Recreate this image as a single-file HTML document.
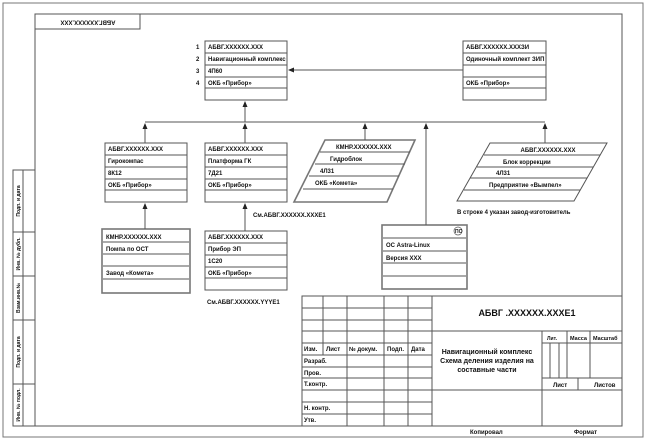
<!DOCTYPE html>
<html><head><meta charset="utf-8"><style>
html,body{margin:0;padding:0;background:#fff}
svg{display:block}
text{font-family:"Liberation Sans",sans-serif;font-size:6px;fill:#111;font-weight:600}
</style></head><body>
<svg width="647" height="441" viewBox="0 0 647 441" xmlns="http://www.w3.org/2000/svg">
<defs><marker id="a" viewBox="0 0 6 6" refX="5" refY="3" markerWidth="6" markerHeight="6" orient="auto"><path d="M0,0.5 L6,3 L0,5.5z" fill="#222"/></marker></defs>
<g fill="none" stroke="#555" stroke-width="1">
<rect x="3" y="3" width="640" height="434" stroke="#777"/>
<rect x="35" y="14" width="587" height="412"/>
<rect x="35" y="14" width="105" height="15"/>
<rect x="13" y="170" width="22" height="256"/>
<line x1="23" y1="170" x2="23" y2="426"/>
<line x1="13" y1="232" x2="35" y2="232"/><line x1="13" y1="276" x2="35" y2="276"/>
<line x1="13" y1="320" x2="35" y2="320"/><line x1="13" y1="384" x2="35" y2="384"/>
</g>
<text transform="translate(88,22) rotate(180)" text-anchor="middle" dominant-baseline="middle">АБВГ.XXXXXX.XXX</text>
<text transform="translate(20,201) rotate(-90)" text-anchor="middle" style="font-size:5px">Подп. и дата</text>
<text transform="translate(20,254) rotate(-90)" text-anchor="middle" style="font-size:5px">Инв. № дубл.</text>
<text transform="translate(20,298) rotate(-90)" text-anchor="middle" style="font-size:5px">Взам.инв.№</text>
<text transform="translate(20,352) rotate(-90)" text-anchor="middle" style="font-size:5px">Подп. и дата</text>
<text transform="translate(20,405) rotate(-90)" text-anchor="middle" style="font-size:5px">Инв. № подл.</text>
<g fill="none" stroke="#555" stroke-width="1">
<rect x="205" y="41" width="82" height="59"/><line x1="205" y1="53" x2="287" y2="53"/><line x1="205" y1="65" x2="287" y2="65"/><line x1="205" y1="77" x2="287" y2="77"/><line x1="205" y1="88" x2="287" y2="88"/>
<rect x="463" y="41" width="83" height="59"/><line x1="463" y1="53" x2="546" y2="53"/><line x1="463" y1="65" x2="546" y2="65"/><line x1="463" y1="77" x2="546" y2="77"/><line x1="463" y1="88" x2="546" y2="88"/>
<rect x="105" y="143" width="82" height="59"/><line x1="105" y1="155" x2="187" y2="155"/><line x1="105" y1="167" x2="187" y2="167"/><line x1="105" y1="179" x2="187" y2="179"/><line x1="105" y1="190" x2="187" y2="190"/>
<rect x="205" y="143" width="82" height="59"/><line x1="205" y1="155" x2="287" y2="155"/><line x1="205" y1="167" x2="287" y2="167"/><line x1="205" y1="179" x2="287" y2="179"/><line x1="205" y1="190" x2="287" y2="190"/>
<rect x="102" y="229" width="88" height="64" stroke-width="1.6" stroke="#777"/><line x1="103" y1="242" x2="189" y2="242"/><line x1="103" y1="254" x2="189" y2="254"/><line x1="103" y1="266" x2="189" y2="266"/><line x1="103" y1="279" x2="189" y2="279"/>
<rect x="205" y="231" width="82" height="59"/><line x1="205" y1="243" x2="287" y2="243"/><line x1="205" y1="255" x2="287" y2="255"/><line x1="205" y1="267" x2="287" y2="267"/><line x1="205" y1="278" x2="287" y2="278"/>
<rect x="382" y="225" width="85" height="64" stroke-width="1.6" stroke="#777"/><line x1="383" y1="238" x2="466" y2="238"/><line x1="383" y1="251" x2="466" y2="251"/><line x1="383" y1="263" x2="466" y2="263"/><line x1="383" y1="276" x2="466" y2="276"/>
<polygon points="325,140 415,140 387,202 294,202" stroke-width="1.6" stroke="#777"/>
<line x1="320" y1="152" x2="410" y2="152"/><line x1="315" y1="164" x2="405" y2="164"/><line x1="309" y1="176" x2="399" y2="176"/><line x1="303" y1="189" x2="393" y2="189"/>
<polygon points="490,143 607,143 574,201 457,201"/>
<line x1="484" y1="155" x2="600" y2="155"/><line x1="477" y1="167" x2="593" y2="167"/><line x1="470" y1="178" x2="587" y2="178"/><line x1="464" y1="190" x2="580" y2="190"/>
<circle cx="458" cy="231" r="4" stroke-width="0.7"/>
<line x1="463" y1="70" x2="289" y2="70" marker-end="url(#a)"/>
<line x1="245" y1="122" x2="245" y2="102" marker-end="url(#a)"/>
<line x1="145" y1="122" x2="545" y2="122"/>
<line x1="145" y1="143" x2="145" y2="124" marker-end="url(#a)"/>
<line x1="245" y1="143" x2="245" y2="124" marker-end="url(#a)"/>
<line x1="365" y1="140" x2="365" y2="124" marker-end="url(#a)"/>
<line x1="426" y1="225" x2="426" y2="124" marker-end="url(#a)"/>
<line x1="545" y1="143" x2="545" y2="124" marker-end="url(#a)"/>
<line x1="145" y1="229" x2="145" y2="204" marker-end="url(#a)"/>
<line x1="245" y1="231" x2="245" y2="204" marker-end="url(#a)"/>
<rect x="302" y="296" width="320" height="130"/>
<line x1="323" y1="296" x2="323" y2="355"/><line x1="347" y1="296" x2="347" y2="426"/><line x1="384" y1="296" x2="384" y2="426"/><line x1="408" y1="296" x2="408" y2="426"/><line x1="432" y1="296" x2="432" y2="426"/>
<line x1="302" y1="308" x2="432" y2="308"/><line x1="302" y1="320" x2="432" y2="320"/><line x1="302" y1="331" x2="622" y2="331"/><line x1="302" y1="343" x2="432" y2="343"/><line x1="302" y1="355" x2="432" y2="355"/><line x1="302" y1="367" x2="432" y2="367"/><line x1="302" y1="378" x2="432" y2="378"/><line x1="302" y1="390" x2="622" y2="390"/><line x1="302" y1="402" x2="432" y2="402"/><line x1="302" y1="414" x2="432" y2="414"/>
<line x1="542" y1="331" x2="542" y2="426"/><line x1="567" y1="331" x2="567" y2="378"/><line x1="590" y1="331" x2="590" y2="378"/>
<line x1="542" y1="343" x2="622" y2="343"/><line x1="542" y1="378" x2="622" y2="378"/>
<line x1="550" y1="343" x2="550" y2="378"/><line x1="559" y1="343" x2="559" y2="378"/><line x1="578" y1="378" x2="578" y2="390"/>
</g>
<g>
<text x="196" y="49">1</text><text x="196" y="61">2</text><text x="196" y="73">3</text><text x="196" y="85">4</text>
<text x="208" y="49">АБВГ.XXXXXX.XXX</text><text x="208" y="61">Навигационный комплекс</text><text x="208" y="73">4П60</text><text x="208" y="85">ОКБ «Прибор»</text>
<text x="466" y="49">АБВГ.XXXXXX.XXXЗИ</text><text x="466" y="61">Одиночный комплект ЗИП</text><text x="466" y="85">ОКБ «Прибор»</text>
<text x="108" y="151">АБВГ.XXXXXX.XXX</text><text x="108" y="163">Гирокомпас</text><text x="108" y="175">8К12</text><text x="108" y="187">ОКБ «Прибор»</text>
<text x="208" y="151">АБВГ.XXXXXX.XXX</text><text x="208" y="163">Платформа ГК</text><text x="208" y="175">7Д21</text><text x="208" y="187">ОКБ «Прибор»</text>
<text x="336" y="149">КМНР.XXXXXX.XXX</text><text x="330" y="161">Гидроблок</text><text x="320" y="173">4Л31</text><text x="315" y="185">ОКБ «Комета»</text>
<text x="548" y="152" text-anchor="middle">АБВГ.XXXXXX.XXX</text><text x="503" y="164">Блок коррекции</text><text x="496" y="175">4Л31</text><text x="489" y="187">Предприятие «Вымпел»</text>
<text x="457" y="214">В строке 4 указан завод-изготовитель</text>
<text x="253" y="217">См.АБВГ.XXXXXX.XXXЕ1</text>
<text x="106" y="239">КМНР.XXXXXX.XXX</text><text x="106" y="251">Помпа по ОСТ</text><text x="106" y="275">Завод «Комета»</text>
<text x="208" y="239">АБВГ.XXXXXX.XXX</text><text x="208" y="251">Прибор ЭП</text><text x="208" y="263">1С20</text><text x="208" y="275">ОКБ «Прибор»</text>
<text x="207" y="304">См.АБВГ.XXXXXX.YYYЕ1</text>
<text x="455" y="233" style="font-size:5px">ПО</text>
<text x="386" y="247">ОС Astra-Linux</text><text x="386" y="260">Версия XXX</text>
<text x="304" y="351">Изм.</text><text x="326" y="351">Лист</text><text x="349" y="351">№ докум.</text><text x="387" y="351">Подп.</text><text x="411" y="351">Дата</text>
<text x="304" y="363">Разраб.</text><text x="304" y="375">Пров.</text><text x="304" y="386">Т.контр.</text><text x="304" y="410">Н. контр.</text><text x="304" y="422">Утв.</text>
<text x="527" y="316" text-anchor="middle" style="font-size:9px">АБВГ .XXXXXX.XXXE1</text>
<text x="487" y="354" text-anchor="middle" style="font-size:7px">Навигационный комплекс</text>
<text x="487" y="363" text-anchor="middle" style="font-size:7px">Схема деления изделия на</text>
<text x="487" y="372" text-anchor="middle" style="font-size:7px">составные части</text>
<text x="547" y="340" style="font-size:5px">Лит.</text><text x="570" y="340" style="font-size:5.5px">Масса</text><text x="593" y="340" style="font-size:5.5px">Масштаб</text>
<text x="553" y="387">Лист</text><text x="594" y="387">Листов</text>
<text x="470" y="434">Копировал</text><text x="574" y="434">Формат</text>
</g>
</svg>
</body></html>
